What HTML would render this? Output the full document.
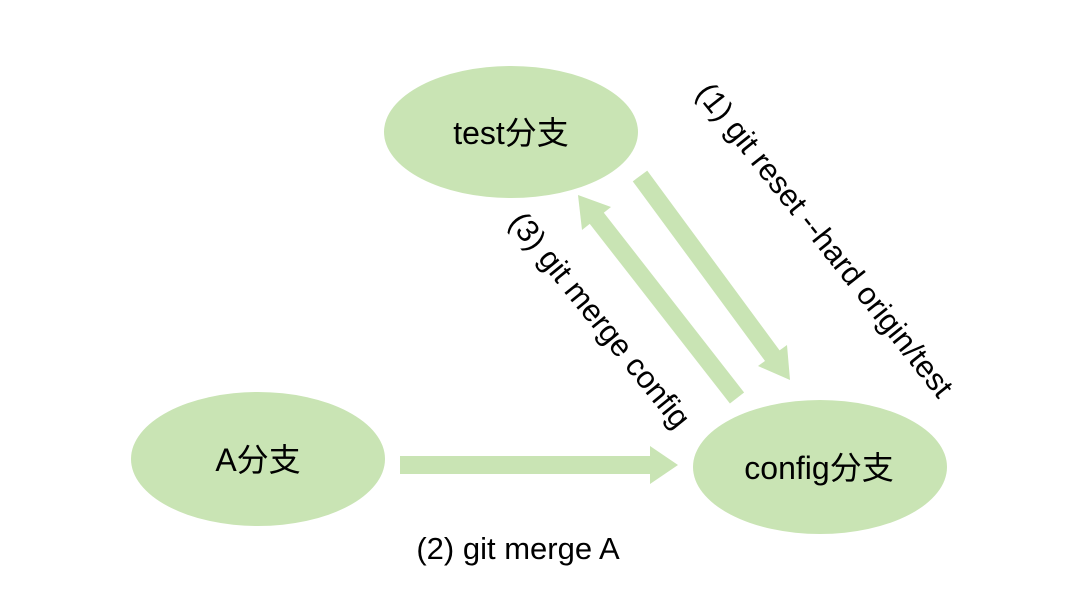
<!DOCTYPE html>
<html><head><meta charset="utf-8"><style>
html,body{margin:0;padding:0;background:#fff;}
svg{display:block;}
text{font-family:"Liberation Sans","Noto Sans CJK SC",sans-serif;fill:#000;}
</style></head><body>
<svg width="1080" height="589" viewBox="0 0 1080 589" xmlns="http://www.w3.org/2000/svg">
<g fill="#c9e4b4">
<ellipse cx="511" cy="132" rx="127" ry="66"/>
<ellipse cx="258" cy="459" rx="127" ry="67"/>
<ellipse cx="820" cy="467" rx="127" ry="67"/>
<polygon points="790,380 787,345 758,366"/>
<polygon points="578,195 611,207 582,230"/>
<polygon points="678,465 650,446 650,484"/>
</g>
<g stroke="#c9e4b4" stroke-width="18">
<line x1="640" y1="176" x2="774" y2="358"/>
<line x1="737" y1="398" x2="595" y2="216"/>
<line x1="400" y1="465" x2="652" y2="465"/>
</g>
<text x="511" y="144" font-size="32" text-anchor="middle">test分支</text>
<text x="258" y="471" font-size="32" text-anchor="middle">A分支</text>
<text x="819" y="479" font-size="32" text-anchor="middle">config分支</text>
<text x="518" y="559" font-size="31" text-anchor="middle">(2) git merge A</text>
<text transform="translate(825,240) rotate(51.5)" font-size="31" text-anchor="middle" dominant-baseline="central">(1) git reset --hard origin/test</text>
<text transform="translate(600,320) rotate(51)" font-size="31" text-anchor="middle" dominant-baseline="central">(3) git merge config</text>
</svg>
</body></html>
